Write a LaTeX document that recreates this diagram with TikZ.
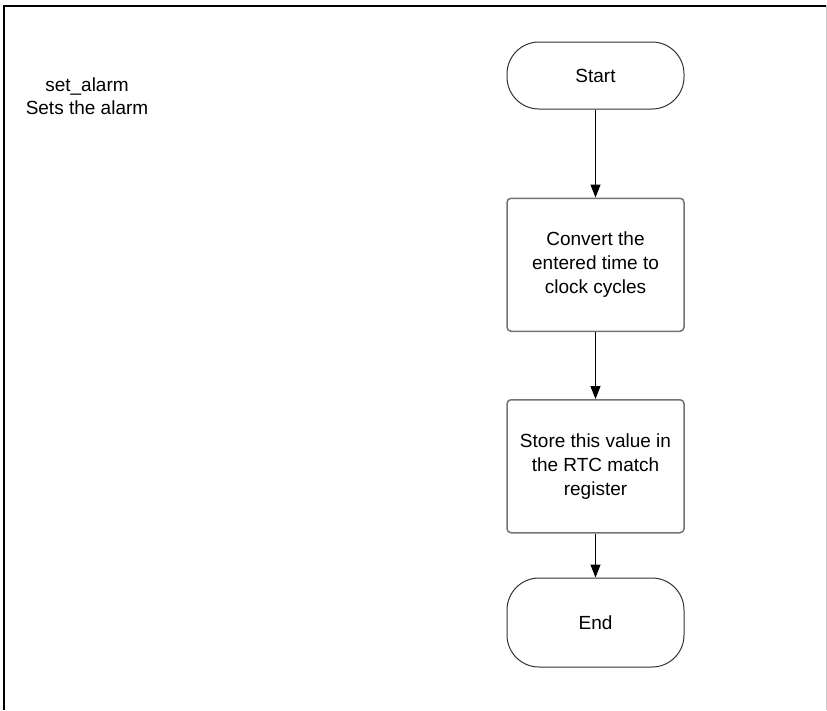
\documentclass[tikz,border=0pt]{standalone}
\usepackage{fontspec}
\setmainfont{Liberation Sans}
\usepackage{tikz}
\usetikzlibrary{arrows.meta,positioning}

\begin{document}
\begin{tikzpicture}[
  node distance=1cm,
  termnode/.style={draw=black!80, line width=1pt, rounded corners=32pt,
                   minimum width=177pt, font=\fontsize{19}{24}\selectfont, align=center},
  procnode/.style={draw=black!55, line width=1.5pt, rounded corners=4pt,
                   minimum width=177pt, minimum height=133pt,
                   font=\fontsize{19}{24}\selectfont, align=center},
  flowline/.style={draw, -{Triangle[length=13pt,width=10pt]}, line width=1.2pt},
]
  \useasboundingbox (0pt,0pt) rectangle (827pt,-710pt);

  % Frame
  \draw[line width=2pt] (4pt,-710pt) -- (4pt,-5.5pt) -- (827pt,-5.5pt);
  \draw[black!20, line width=1pt] (826pt,-5pt) -- (826pt,-710pt);

  % Title
  \node[font=\fontsize{19}{23}\selectfont, align=center] (title) at (87pt,-96.5pt)
    {set\_alarm\\Sets the alarm};

  % Flow
  \node[termnode, minimum height=67pt] (start) at (595.5pt,-75.5pt) {Start};
  \node[procnode, below=88pt of start] (convert)
    {Convert the\\entered time to\\clock cycles};
  \node[procnode, below=67pt of convert] (store)
    {Store this value in\\the RTC match\\register};
  \node[termnode, minimum height=89pt, below=44pt of store] (stop) {End};

  % Edges
  \draw[flowline] (start) -- (convert);
  \draw[flowline] (convert) -- (store);
  \draw[flowline] (store) -- (stop);
\end{tikzpicture}
\end{document}
